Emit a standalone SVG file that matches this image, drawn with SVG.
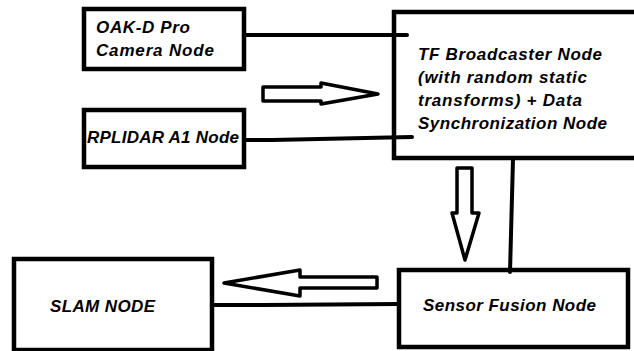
<svg xmlns="http://www.w3.org/2000/svg" width="634" height="351" viewBox="0 0 634 351">
<style>
.box{fill:#fff;stroke:#000;stroke-width:4.5}
.ln{fill:none;stroke:#000;stroke-width:4;stroke-linecap:round}
.arr{fill:#fff;stroke:#000;stroke-width:3.5;stroke-linejoin:round}
.t{font-family:"Liberation Sans",Arial,sans-serif;font-weight:bold;font-style:italic;font-size:17px;fill:#000}
</style>
<rect width="634" height="351" fill="#fff"/>
<g id="oak">
<rect class="box" x="84" y="9" width="160" height="60"/>
<text class="t" x="96" y="33" textLength="94">OAK-D Pro</text>
<text class="t" x="96" y="56" textLength="118">Camera Node</text>
</g>
<g id="rplidar">
<rect class="box" x="84" y="110" width="160" height="57"/>
<text class="t" x="87" y="143" textLength="152">RPLIDAR A1 Node</text>
</g>
<g id="tf">
<rect class="box" x="394" y="12" width="250" height="146"/>
<text class="t" x="418" y="60" textLength="184">TF Broadcaster Node</text>
<text class="t" x="418" y="83" textLength="169">(with random static</text>
<text class="t" x="418" y="106" textLength="164">transforms) + Data</text>
<text class="t" x="418" y="129" textLength="189">Synchronization Node</text>
</g>
<g id="fusion">
<rect class="box" x="399" y="270" width="229" height="77"/>
<text class="t" x="423" y="311" textLength="173">Sensor Fusion Node</text>
</g>
<g id="slam">
<rect class="box" x="14" y="259" width="198" height="91"/>
<text class="t" x="50" y="312" textLength="105">SLAM NODE</text>
</g>
<g id="connectors">
<line class="ln" x1="246" y1="35" x2="407" y2="35"/>
<polyline class="ln" points="246,140 272,140 412,137"/>
<line class="ln" x1="513" y1="159" x2="510" y2="272"/>
<polyline class="ln" points="213,305 263,305 399,304"/>
<polygon class="arr" points="263,87 321,87 321,83 378,94 321,104 321,101 263,101"/>
<polygon class="arr" points="457,168 472,168 472,213 479,213 465,260 452,213 457,213"/>
<polygon class="arr" points="377,277 300,277 300,270 224,283 300,296 300,288 377,288"/>
</g>
</svg>
